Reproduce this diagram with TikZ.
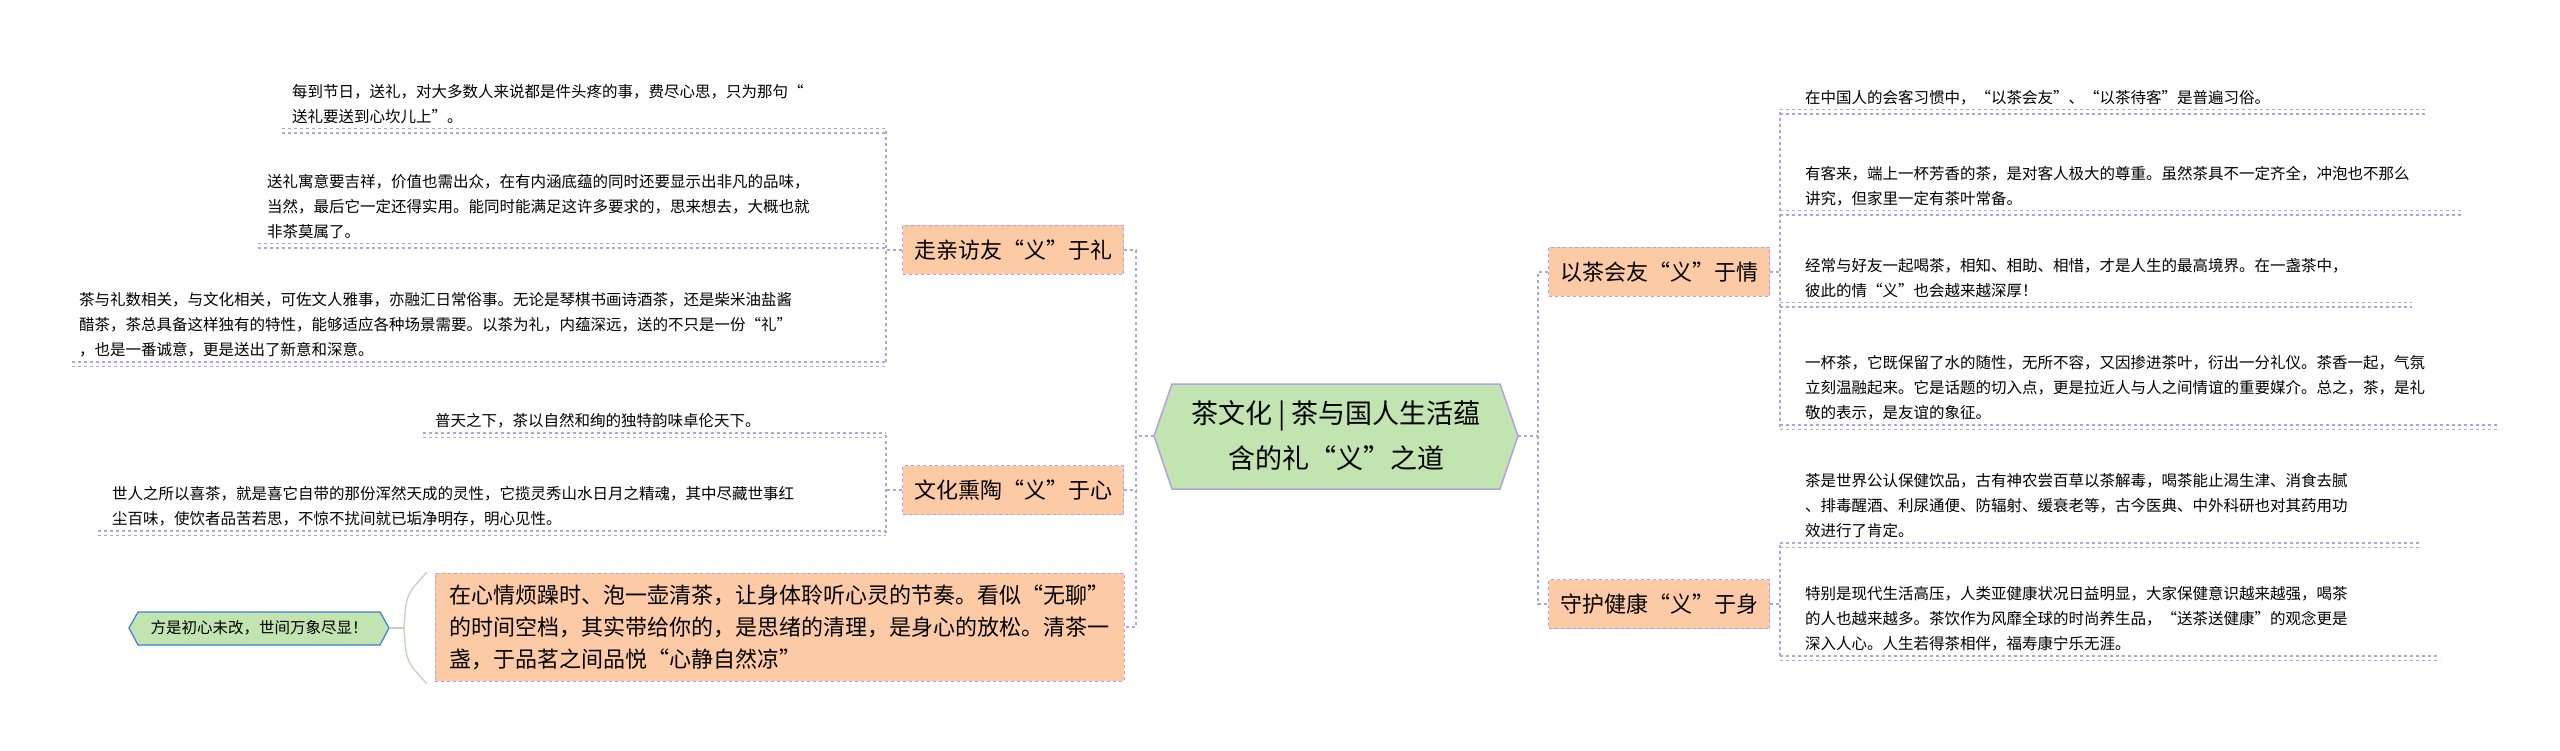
\documentclass[tikz,border=0pt]{standalone}
\usepackage{fontspec}
\setmainfont{Noto Sans CJK SC}
\usetikzlibrary{calc}
\definecolor{lav}{HTML}{B3A1E6}
\definecolor{peach}{HTML}{FDCAA6}
\definecolor{leafgreen}{HTML}{C2E4B0}
\definecolor{linkblue}{HTML}{3E7CD8}
\tikzset{
  branch/.style={draw=lav, dashed, fill=peach, minimum width=221pt, minimum height=49pt,
    font=\fontsize{22}{28}\selectfont, inner sep=4pt},
  leaf/.style={anchor=south west, align=left, inner sep=0pt, font=\fontsize{15.5}{25}\selectfont},
  link/.style={draw=lav, dashed, line width=1.2pt},
  uline/.style={draw=lav, dashed, line width=1.4pt, double distance=3pt, double=white}
}
\begin{document}
\begin{tikzpicture}[x=1pt, y=-1pt]
\useasboundingbox (0,0) rectangle (2560,751);
% centre
\draw[draw=lav, line width=1.5pt, fill=leafgreen]
  (1172,384) -- (1500,384) -- (1518,436) -- (1500,489) -- (1172,489) -- (1154,436) -- cycle;
\node[align=center, font=\fontsize{27}{45}\selectfont] (root) at (1336,436) {茶文化 | 茶与国人生活蕴\\含的礼“义”之道};
\coordinate (rootW) at (1154,436);
\coordinate (rootE) at (1518,436);

% left branches
\node[branch] (visit) at (1013,250) {走亲访友“义”于礼};
\node[branch] (culture) at (1013,490) {文化熏陶“义”于心};
\node[branch, align=left, minimum width=689pt, minimum height=108pt, anchor=center,
  font=\fontsize{22}{32}\selectfont] (calm) at (779.5,627)
  {在心情烦躁时、泡一壶清茶，让身体聆听心灵的节奏。看似“无聊”\\的时间空档，其实带给你的，是思绪的清理，是身心的放松。清茶一\\盏，于品茗之间品悦“心静自然凉”};
\coordinate (ltrunk) at (1136,436);
\draw[link] (rootW) -- (ltrunk);
\draw[link] (visit.east) -| (ltrunk) |- (calm.east);
\draw[link] (culture.east) -- (culture.east -| ltrunk);

% right branches
\node[branch] (friend) at (1659,272) {以茶会友“义”于情};
\node[branch] (health) at (1659,604) {守护健康“义”于身};
\coordinate (rtrunk) at (1538,436);
\draw[link] (rootE) -- (rtrunk);
\draw[link] (friend.west) -| (rtrunk) |- (health.west);

% leaves of visit
\coordinate (vbar) at (886,0);
\node[leaf] (v1) at (292,124) {每到节日，送礼，对大多数人来说都是件头疼的事，费尽心思，只为那句“\\送礼要送到心坎儿上”。};
\node[leaf] (v2) at (267,239) {送礼寓意要吉祥，价值也需出众，在有内涵底蕴的同时还要显示出非凡的品味，\\当然，最后它一定还得实用。能同时能满足这许多要求的，思来想去，大概也就\\非茶莫属了。};
\node[leaf] (v3) at (79,357) {茶与礼数相关，与文化相关，可佐文人雅事，亦融汇日常俗事。无论是琴棋书画诗酒茶，还是柴米油盐酱\\醋茶，茶总具备这样独有的特性，能够适应各种场景需要。以茶为礼，内蕴深远，送的不只是一份“礼”\\，也是一番诚意，更是送出了新意和深意。};
\draw[uline] (282,131) -- (886,131);
\draw[uline] (258,246) -- (886,246);
\draw[uline] (72,364) -- (886,364);
\draw[link] (886,131) -- (886,364);
\draw[link] (visit.west) -- (visit.west -| vbar);

% leaves of culture
\node[leaf] (c1) at (435,428) {普天之下，茶以自然和绚的独特韵味卓伦天下。};
\node[leaf] (c2) at (112,526) {世人之所以喜茶，就是喜它自带的那份浑然天成的灵性，它揽灵秀山水日月之精魂，其中尽藏世事红\\尘百味，使饮者品苦若思，不惊不扰间就已垢净明存，明心见性。};
\draw[uline] (423,435) -- (886,435);
\draw[uline] (98,533) -- (886,533);
\draw[link] (886,435) -- (886,533);
\draw[link] (culture.west) -- (culture.west -| vbar);

% green leaf with bracket
\draw[draw=linkblue, line width=1.2pt, fill=leafgreen]
  (138,612) -- (380,612) -- (389,628) -- (380,645) -- (138,645) -- (129,628) -- cycle;
\node[font=\fontsize{15.5}{20}\selectfont] (motto) at (259,628) {方是初心未改，世间万象尽显！};
\coordinate (mottoE) at (389,628);
\coordinate (brace) at (404,628);
\draw[leafgreen!80!black!60, line width=1.3pt] (mottoE) -- (brace);
\draw[leafgreen!80!black!60, line width=1.3pt] (427,572) .. controls (406,595) .. (brace) .. controls (406,661) .. (427,684);

% leaves of friend
\coordinate (fbar) at (1780,0);
\node[leaf] (f1) at (1805,105) {在中国人的会客习惯中，“以茶会友”、“以茶待客”是普遍习俗。};
\node[leaf] (f2) at (1805,206) {有客来，端上一杯芳香的茶，是对客人极大的尊重。虽然茶具不一定齐全，冲泡也不那么\\讲究，但家里一定有茶叶常备。};
\node[leaf] (f3) at (1805,298) {经常与好友一起喝茶，相知、相助、相惜，才是人生的最高境界。在一盏茶中，\\彼此的情“义”也会越来越深厚！};
\node[leaf] (f4) at (1805,420) {一杯茶，它既保留了水的随性，无所不容，又因掺进茶叶，衍出一分礼仪。茶香一起，气氛\\立刻温融起来。它是话题的切入点，更是拉近人与人之间情谊的重要媒介。总之，茶，是礼\\敬的表示，是友谊的象征。};
\draw[uline] (1780,112) -- (2425,112);
\draw[uline] (1780,213) -- (2462,213);
\draw[uline] (1780,305) -- (2412,305);
\draw[uline] (1780,427) -- (2499,427);
\draw[link] (1780,112) -- (1780,427);
\draw[link] (friend.east) -- (friend.east -| fbar);

% leaves of health
\node[leaf] (h1) at (1805,538) {茶是世界公认保健饮品，古有神农尝百草以茶解毒，喝茶能止渴生津、消食去腻\\、排毒醒酒、利尿通便、防辐射、缓衰老等，古今医典、中外科研也对其药用功\\效进行了肯定。};
\node[leaf] (h2) at (1805,651) {特别是现代生活高压，人类亚健康状况日益明显，大家保健意识越来越强，喝茶\\的人也越来越多。茶饮作为风靡全球的时尚养生品，“送茶送健康”的观念更是\\深入人心。人生若得茶相伴，福寿康宁乐无涯。};
\draw[uline] (1780,545) -- (2420,545);
\draw[uline] (1780,658) -- (2440,658);
\draw[link] (1780,545) -- (1780,658);
\draw[link] (health.east) -- (health.east -| fbar);
\end{tikzpicture}
\end{document}
